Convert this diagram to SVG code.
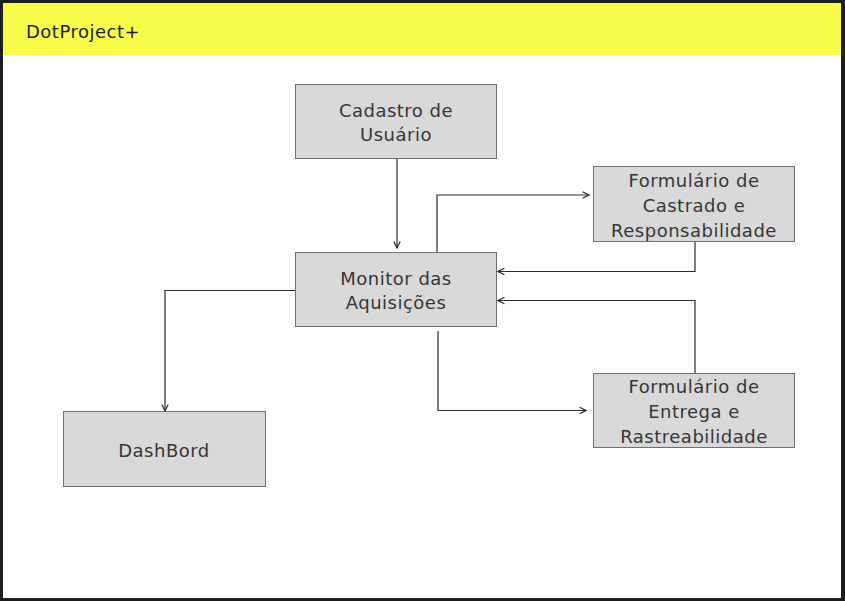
<svg xmlns="http://www.w3.org/2000/svg" width="845" height="601" viewBox="0 0 845 601">
<defs>
<style>
.node rect{fill:#d9d9d9;stroke:#6f6f6f;stroke-width:1}
.node text{font-family:"DejaVu Sans","Noto Sans",sans-serif;font-size:18px;letter-spacing:0.5px;fill:#363636;text-anchor:middle}
.conn path{fill:none;stroke:#2a2a2a;stroke-width:1.2}
</style>
<marker id="arr" viewBox="0 0 10 10" refX="9" refY="5" markerWidth="8" markerHeight="8" markerUnits="userSpaceOnUse" orient="auto">
<path d="M1,1 L9,5 L1,9" fill="none" stroke="#2a2a2a" stroke-width="1.5"/>
</marker>
</defs>
<rect x="0" y="0" width="845" height="601" fill="#1e1e1e"/>
<rect x="3" y="3" width="838" height="595" fill="#ffffff"/>
<rect x="3" y="3" width="838" height="52" fill="#f9fb4a"/>
<text x="26" y="38" font-family="DejaVu Sans,sans-serif" font-size="18" letter-spacing="0.5" fill="#1e1e1e">DotProject+</text>
<g class="conn">
<path d="M397,159 V248" marker-end="url(#arr)"/>
<path d="M437,252 V195 H589" marker-end="url(#arr)"/>
<path d="M695,241 V271.5 H498" marker-end="url(#arr)"/>
<path d="M695,373 V300.5 H498" marker-end="url(#arr)"/>
<path d="M438,331 V410.5 H586" marker-end="url(#arr)"/>
<path d="M295,290.5 H165 V411" marker-end="url(#arr)"/>
</g>
<g id="cadastro" class="node"><rect x="295.5" y="84.5" width="201" height="74"/><text x="396" y="117">Cadastro de</text><text x="396" y="141">Usuário</text></g>
<g id="monitor" class="node"><rect x="295.5" y="252.5" width="201" height="74"/><text x="396" y="285">Monitor das</text><text x="396" y="309">Aquisições</text></g>
<g id="form-cadastro" class="node"><rect x="593.5" y="166.5" width="201" height="75"/><text x="694" y="187">Formulário de</text><text x="694" y="212">Castrado e</text><text x="694" y="237">Responsabilidade</text></g>
<g id="form-entrega" class="node"><rect x="593.5" y="373.5" width="201" height="74"/><text x="694" y="393">Formulário de</text><text x="694" y="418">Entrega e</text><text x="694" y="443">Rastreabilidade</text></g>
<g id="dashbord" class="node"><rect x="63.5" y="411.5" width="202" height="75"/><text x="164" y="457">DashBord</text></g>
</svg>
